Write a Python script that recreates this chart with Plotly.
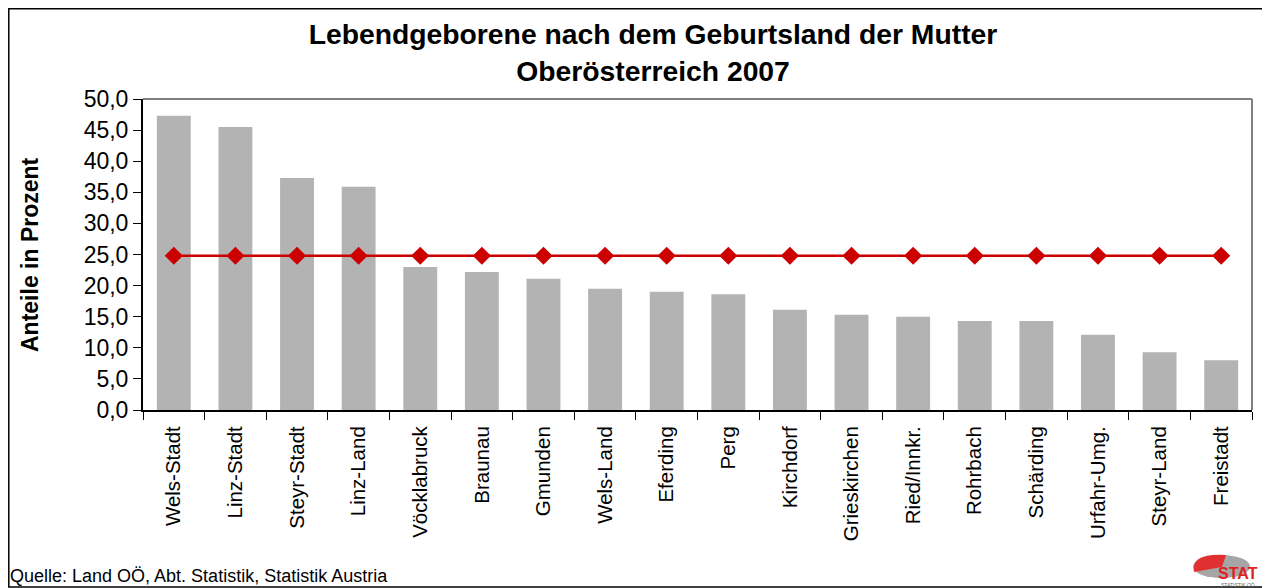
import plotly.graph_objects as go

bezirke = [
    "Wels-Stadt", "Linz-Stadt", "Steyr-Stadt", "Linz-Land", "Vöcklabruck",
    "Braunau", "Gmunden", "Wels-Land", "Eferding", "Perg", "Kirchdorf",
    "Grieskirchen", "Ried/Innkr.", "Rohrbach", "Schärding", "Urfahr-Umg.",
    "Steyr-Land", "Freistadt",
]
anteile = [47.3, 45.5, 37.3, 35.9, 23.0, 22.2, 21.1, 19.5, 19.0, 18.6, 16.1,
           15.3, 15.0, 14.3, 14.3, 12.1, 9.3, 8.0]
ooe_schnitt = [24.8] * len(bezirke)
y_ticks = [0, 5, 10, 15, 20, 25, 30, 35, 40, 45, 50]

# page has an 8px body margin, so the figure starts at (8, 8)
OFF = 8
W, H = 1270 - OFF, 588 - OFF
L, R, T, B = 143, 1252, 99, 410  # plot area in page pixels


def px(x):
    return (x - L) / (R - L)


def py(y):
    return (B - y) / (B - T)


fig = go.Figure()
fig.add_trace(go.Bar(
    x=bezirke, y=anteile, marker=dict(color="#B3B3B3", line=dict(width=0)),
    width=0.55, hoverinfo="x+y",
))
fig.add_trace(go.Scatter(
    x=bezirke, y=ooe_schnitt, mode="lines+markers",
    line=dict(color="#CC0000", width=2.5),
    marker=dict(symbol="diamond", size=14, color="#CC0000"),
))

font = "Liberation Sans, Arial, sans-serif"
fig.update_layout(
    width=W, height=H,
    margin=dict(l=L - OFF, r=W + OFF - R, t=T - OFF, b=H + OFF - B),
    paper_bgcolor="white", plot_bgcolor="white",
    showlegend=False,
    separators=",.",
    font=dict(family=font, color="black"),
    title=dict(
        text="<b>Lebendgeborene nach dem Geburtsland der Mutter<br>Oberösterreich 2007</b>",
        x=(653 - OFF) / W, xanchor="center", y=1 - (44 - OFF) / H, yanchor="middle",
        font=dict(size=28.3, family=font),
    ),
    xaxis=dict(
        tickangle=-90, tickfont=dict(size=20.5), ticks="outside", ticklen=8,
        tickson="boundaries", tickcolor="black", ticklabelstandoff=6,
        showline=True, linecolor="black", linewidth=2, mirror=False,
        showgrid=False, range=[-0.5, len(bezirke) - 0.5],
    ),
    yaxis=dict(
        range=[0, 50], tickvals=y_ticks, tickformat=".1f",
        tickfont=dict(size=23), ticks="outside", ticklen=8, tickcolor="black",
        showline=True, linecolor="black", linewidth=2, showgrid=False,
        zeroline=False,
    ),
)

fig.add_annotation(
    text="<b>Anteile in Prozent</b>", textangle=-90,
    xref="paper", yref="paper", x=px(30), y=py(254),
    xanchor="center", yanchor="middle", showarrow=False,
    font=dict(size=23, family=font),
)

# gray top / right frame of the plot area
fig.add_shape(type="line", xref="paper", yref="paper", x0=0, x1=1, y0=1, y1=1,
              line=dict(color="#808080", width=2))
fig.add_shape(type="line", xref="paper", yref="paper", x0=1, x1=1, y0=0, y1=1,
              line=dict(color="#808080", width=2))
# outer chart frame
fig.add_shape(type="rect", xref="paper", yref="paper",
              x0=px(8.8), x1=px(1263), y0=py(8.8), y1=py(587),
              line=dict(color="black", width=1.5), layer="below")

fig.add_annotation(
    text="Quelle: Land OÖ, Abt. Statistik, Statistik Austria",
    xref="paper", yref="paper", x=px(8), y=py(576), xanchor="left", yanchor="middle",
    showarrow=False, font=dict(size=18, family=font),
)

# small STAT logo
fig.add_shape(type="circle", xref="paper", yref="paper",
              x0=px(1193), x1=px(1250), y0=py(555), y1=py(578),
              fillcolor="#A6A6A6", line=dict(width=0))
fig.add_shape(type="path", xref="paper", yref="paper",
              path=(f"M {px(1222)},{py(567)} L {px(1226)},{py(555)} "
                    f"Q {px(1190)},{py(553)} {px(1194)},{py(572)} Z"),
              fillcolor="#E03030", line=dict(width=0))
fig.add_annotation(
    text="<b>STAT</b>", xref="paper", yref="paper",
    x=px(1238), y=py(573), xanchor="center", yanchor="middle", showarrow=False,
    font=dict(size=16, color="#E02020", family=font),
)
fig.add_annotation(
    text="STATISTIK OÖ", xref="paper", yref="paper",
    x=px(1238), y=py(585), xanchor="center", yanchor="middle", showarrow=False,
    font=dict(size=5, color="#666666", family=font),
)

fig.write_html("out.html")
